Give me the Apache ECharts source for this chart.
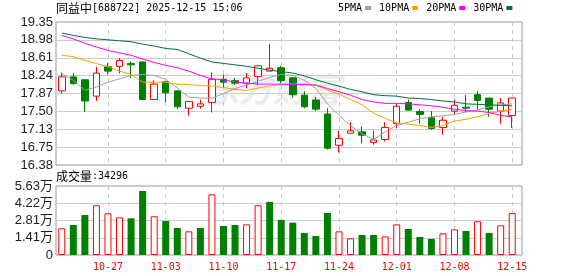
<!DOCTYPE html>
<html>
<head>
<meta charset="utf-8">
<script src="https://cdn.jsdelivr.net/npm/echarts@6/dist/echarts.min.js"></script>
<style>
html,body{margin:0;padding:0;background:#fff;}
#c{width:578px;height:276px;}
</style>
</head>
<body>
<div id="c"></div>
<script>
const dates = ['10-21','10-22','10-23','10-24','10-27','10-28','10-29','10-30','10-31',
  '11-03','11-04','11-05','11-06','11-07','11-10','11-11','11-12','11-13','11-14',
  '11-17','11-18','11-19','11-20','11-21','11-24','11-25','11-26','11-27','11-28',
  '12-01','12-02','12-03','12-04','12-05','12-08','12-09','12-10','12-11','12-12','12-15'];
const tickLabels = ['10-27','11-03','11-10','11-17','11-24','12-01','12-08','12-15'];
const priceTicks = ['16.38','16.75','17.13','17.50','17.87','18.24','18.61','18.98','19.35'];
const volTicks = ['0','1.41万','2.81万','4.22万','5.63万'];

const opens  = [17.92,18.21,18.15,17.81,18.42,18.43,18.49,18.52,17.74,18.11,17.92,17.56,17.60,17.68,18.16,18.13,18.08,18.22,18.33,18.40,
                18.19,17.83,17.73,17.44,16.79,17.04,17.07,16.85,16.91,17.24,17.68,17.49,17.36,17.16,17.50,17.58,17.84,17.77,17.50,17.41];
const closes = [18.21,18.07,17.71,18.29,18.33,18.55,18.46,17.74,18.06,17.88,17.59,17.70,17.65,18.16,18.10,18.08,18.19,18.44,18.39,18.13,
                17.84,17.59,17.54,16.73,16.93,17.09,17.00,16.90,17.16,17.60,17.52,17.43,17.14,17.31,17.62,17.56,17.72,17.54,17.67,17.77];
const lows   = [17.86,18.05,17.48,17.71,18.26,18.28,18.19,17.73,17.74,17.68,17.54,17.41,17.55,17.47,17.98,18.04,17.97,18.04,18.33,18.08,
                17.78,17.56,17.50,16.70,16.64,17.04,16.83,16.80,16.87,17.15,17.51,17.24,17.11,17.01,17.43,17.48,17.53,17.38,17.24,17.15];
const highs  = [18.30,18.29,18.15,18.42,18.50,18.60,18.53,18.53,18.14,18.11,17.92,17.70,17.74,18.30,18.26,18.19,18.29,18.44,18.89,18.44,
                18.19,17.91,17.79,17.56,17.09,17.27,17.18,17.09,17.27,17.65,17.74,17.54,17.50,17.38,17.74,17.83,17.92,17.77,17.77,17.77];

const ma5  = [18.28,18.14,17.93,18.00,18.10,18.17,18.24,18.26,18.24,18.16,17.98,17.79,17.77,17.77,17.86,17.97,18.04,18.12,18.20,18.26,
              18.24,18.14,17.97,17.65,17.41,17.20,17.03,16.91,17.07,17.20,17.27,17.34,17.38,17.40,17.43,17.48,17.52,17.59,17.63,17.65];
const ma10 = [18.66,18.63,18.55,18.49,18.42,18.33,18.26,18.10,18.10,18.10,18.06,18.05,18.03,18.02,17.99,17.95,17.93,17.98,18.02,18.05,
              18.06,18.06,18.04,17.94,17.85,17.74,17.63,17.46,17.35,17.25,17.23,17.20,17.16,17.20,17.29,17.33,17.38,17.45,17.50,17.54];
const ma20 = [19.07,19.00,18.91,18.83,18.76,18.71,18.66,18.58,18.51,18.45,18.40,18.33,18.24,18.17,18.15,18.10,18.08,18.06,18.06,18.06,
              18.05,18.05,18.04,17.97,17.90,17.83,17.74,17.69,17.66,17.66,17.65,17.63,17.61,17.58,17.54,17.51,17.50,17.47,17.41,17.38];
const ma30 = [19.12,19.07,19.03,19.00,18.98,18.96,18.94,18.89,18.85,18.80,18.78,18.69,18.60,18.52,18.49,18.46,18.43,18.39,18.35,18.32,
              18.29,18.23,18.15,18.08,18.02,17.95,17.90,17.84,17.82,17.81,17.77,17.76,17.74,17.71,17.69,17.65,17.64,17.63,17.62,17.61];

const volumes = [21800,24500,32600,40600,34000,30700,29900,52200,31600,27700,22000,19300,22000,49500,23700,24500,25000,40600,43300,28600,
                 26400,18000,15500,34300,19300,13600,16300,16300,15200,25000,21200,14700,13100,17700,20900,19600,27500,18000,24200,34296];
const volUp = [1,0,0,1,1,1,0,0,1,0,0,1,0,1,0,0,1,1,0,0,0,0,0,0,1,1,0,0,1,1,0,0,0,1,1,0,1,0,1,1];

const RED = '#ff0000', GREEN = '#008000';
const MONO = "'DejaVu Sans Mono', monospace";
const CJK = "'Noto Sans CJK SC', sans-serif";
const LAB = "'Liberation Sans', 'Noto Sans CJK SC', sans-serif";

const chart = echarts.init(document.getElementById('c'), null, {renderer: 'canvas'});

const weekSplit = {
  show: true,
  interval: function (i, v) { return tickLabels.indexOf(v) >= 0; },
  alignWithLabel: true,
  lineStyle: {color: '#cccccc', type: [4, 4], width: 1}
};

const richTitle = {
  c: {fontFamily: CJK, fontSize: 12, fontWeight: 'normal', color: '#000'},
  a: {fontFamily: MONO, fontSize: 10, fontWeight: 'normal', color: '#000'}
};

const option = {
  animation: false,
  backgroundColor: '#ffffff',
  title: [
    {
      text: '{c|同益中}{a|[688722] 2025-12-15 15:06}',
      left: 56, top: 2, padding: 0,
      textStyle: {fontWeight: 'normal', rich: richTitle}
    },
    {
      text: '{c|成交量}{a|:' + volumes[volumes.length - 1] + '}',
      left: 56, top: 170, padding: 0,
      textStyle: {fontWeight: 'normal', rich: richTitle}
    }
  ],
  legend: {
    left: 338, top: 3, padding: 0,
    align: 'right',
    icon: 'rect', itemWidth: 6, itemHeight: 4, itemGap: 8,
    textStyle: {fontFamily: MONO, fontSize: 10, color: '#000', padding: [0, -2, 0, 0]},
    data: ['5PMA', '10PMA', '20PMA', '30PMA']
  },
  graphic: [{
    type: 'text', left: 205, top: 72, z: 0, silent: true,
    style: {text: '东方财富', fontFamily: CJK, fontSize: 34, fontWeight: 'bold', fontStyle: 'italic', fill: '#ececf0'}
  }],
  grid: [
    {left: 56, top: 22, width: 462, height: 143, show: false},
    {left: 56, top: 186, width: 462, height: 69, show: false},
    {left: 56, top: 22, width: 466, height: 143, show: true, borderColor: '#999', borderWidth: 1, backgroundColor: 'transparent'},
    {left: 56, top: 186, width: 466, height: 69, show: true, borderColor: '#999', borderWidth: 1, backgroundColor: 'transparent'}
  ],
  xAxis: [
    {type: 'category', gridIndex: 0, data: dates, boundaryGap: true,
      axisLine: {show: false}, axisTick: {show: false}, axisLabel: {show: false}, splitLine: weekSplit},
    {type: 'category', gridIndex: 1, data: dates, boundaryGap: true,
      axisLine: {show: false}, axisTick: {show: false},
      axisLabel: {show: true, interval: function (i, v) { return tickLabels.indexOf(v) >= 0; },
        color: RED, fontFamily: MONO, fontSize: 10, margin: 7},
      splitLine: weekSplit},
    {type: 'value', gridIndex: 2, min: 0, max: 1, show: false},
    {type: 'value', gridIndex: 3, min: 0, max: 1, show: false}
  ],
  yAxis: [
    {type: 'value', gridIndex: 0, min: 16.38, max: 19.35, show: false},
    {type: 'value', gridIndex: 1, min: 0, max: 56300, show: false},
    {type: 'value', gridIndex: 2, min: 0, max: priceTicks.length - 1, interval: 1,
      axisLine: {show: false}, axisTick: {show: false},
      axisLabel: {formatter: function (v) { return priceTicks[Math.round(v)]; }, color: '#1c1c2c',
        fontFamily: LAB, fontSize: 13, margin: 3},
      splitLine: {show: true, lineStyle: {color: '#cccccc', width: 1}}},
    {type: 'value', gridIndex: 3, min: 0, max: volTicks.length - 1, interval: 1,
      axisLine: {show: false}, axisTick: {show: false},
      axisLabel: {formatter: function (v) { return volTicks[Math.round(v)]; }, color: '#1c1c1c',
        fontFamily: LAB, fontSize: 13, margin: 3},
      splitLine: {show: true, lineStyle: {color: '#cccccc', width: 1}}}
  ],
  series: [
    {
      type: 'candlestick', name: 'K', xAxisIndex: 0, yAxisIndex: 0,
      barWidth: 7,
      data: dates.map(function (d, i) { return [opens[i], closes[i], lows[i], highs[i]]; }),
      itemStyle: {color: '#ffffff', color0: GREEN, borderColor: RED, borderColor0: GREEN, borderWidth: 1}
    },
    {type: 'line', name: '5PMA', xAxisIndex: 0, yAxisIndex: 0, data: ma5, symbol: 'none',
      lineStyle: {color: '#a0a0a0', width: 1}, itemStyle: {color: '#a0a0a0'}},
    {type: 'line', name: '10PMA', xAxisIndex: 0, yAxisIndex: 0, data: ma10, symbol: 'none',
      lineStyle: {color: '#f5a300', width: 1}, itemStyle: {color: '#f5a300'}},
    {type: 'line', name: '20PMA', xAxisIndex: 0, yAxisIndex: 0, data: ma20, symbol: 'none',
      lineStyle: {color: '#ff00ff', width: 1}, itemStyle: {color: '#ff00ff'}},
    {type: 'line', name: '30PMA', xAxisIndex: 0, yAxisIndex: 0, data: ma30, symbol: 'none',
      lineStyle: {color: '#00703c', width: 1}, itemStyle: {color: '#00703c'}},
    {
      type: 'bar', name: 'VOL', xAxisIndex: 1, yAxisIndex: 1, barWidth: 7,
      data: volumes.map(function (v, i) {
        return {value: v, itemStyle: volUp[i]
          ? {color: '#ffffff', borderColor: RED, borderWidth: 1}
          : {color: GREEN, borderColor: GREEN, borderWidth: 0}};
      })
    }
  ]
};
chart.setOption(option);
</script>
</body>
</html>
